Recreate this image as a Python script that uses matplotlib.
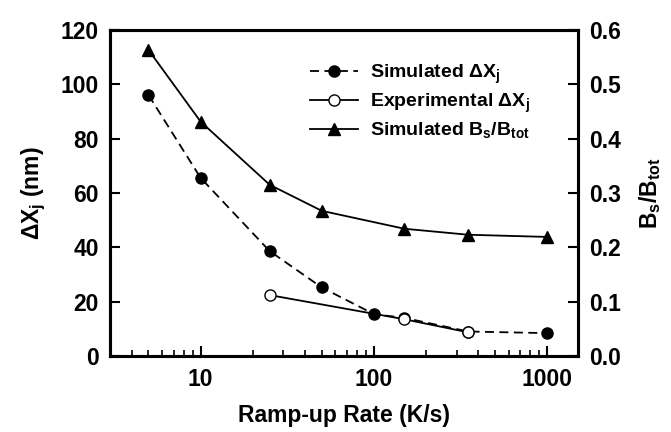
import matplotlib
matplotlib.use('Agg')
import matplotlib.pyplot as plt
from matplotlib.ticker import LogLocator, NullFormatter, FixedLocator, FixedFormatter

plt.rcParams['font.family'] = ['Liberation Sans', 'DejaVu Sans']
plt.rcParams['font.weight'] = 'bold'
plt.rcParams['mathtext.default'] = 'regular'

# Data
rate_sim = [5, 10, 25, 50, 100, 150, 350, 1000]
dxj_sim = [96, 65.5, 38.6, 25.2, 15.4, 14.0, 9.0, 8.4]
rate_exp = [25, 150, 350]
dxj_exp = [22.4, 13.5, 8.7]
rate_b = [5, 10, 25, 50, 150, 350, 1000]
bs_btot = [0.563, 0.431, 0.315, 0.267, 0.234, 0.223, 0.219]

x_ticks = [10, 100, 1000]
x_ticklabels = ['10', '100', '1000']
yl_ticks = [0, 20, 40, 60, 80, 100, 120]
yr_ticks = [0.0, 0.1, 0.2, 0.3, 0.4, 0.5, 0.6]

fig = plt.figure(figsize=(6.71, 4.32), dpi=100)
ax = fig.add_axes([0.164, 0.176, 0.697, 0.755])
ax2 = ax.twinx()

lw = 1.3
l1, = ax.plot(rate_sim, dxj_sim, color='black', linestyle=(0, (5, 3)), linewidth=lw,
              marker='o', markersize=8, markerfacecolor='black', markeredgecolor='black',
              label='Simulated $\\Delta X_j$')
l2, = ax.plot(rate_exp, dxj_exp, color='black', linestyle='-', linewidth=lw,
              marker='o', markersize=8, markerfacecolor='white', markeredgecolor='black',
              markeredgewidth=1.0, label='Experimental $\\Delta X_j$')
l3, = ax2.plot(rate_b, bs_btot, color='black', linestyle='-', linewidth=lw,
               marker='^', markersize=9, markerfacecolor='black', markeredgecolor='black',
               label='Simulated B$_s$/B$_{tot}$')
ax.set_zorder(ax2.get_zorder() + 1)
ax.patch.set_visible(False)

ax.set_xscale('log')
ax.set_xlim(3, 1500)
ax.set_ylim(0, 120)
ax2.set_ylim(0, 0.6)

ax.xaxis.set_major_locator(FixedLocator(x_ticks))
ax.xaxis.set_major_formatter(FixedFormatter(x_ticklabels))
ax.xaxis.set_minor_locator(LogLocator(base=10, subs=range(2, 10)))
ax.xaxis.set_minor_formatter(NullFormatter())
ax.set_yticks(yl_ticks)
ax2.set_yticks(yr_ticks)
ax2.set_yticklabels([f'{v:.1f}' for v in yr_ticks])

fs = 16.5
for a in (ax, ax2):
    for s in a.spines.values():
        s.set_linewidth(2.2)
    a.tick_params(which='major', direction='in', length=7.5, width=1.5, labelsize=fs, pad=8)
    a.tick_params(which='minor', direction='in', length=4, width=1.2)
ax.tick_params(axis='x', which='major', pad=9)
ax.tick_params(top=False, right=False)
ax.tick_params(axis='x', which='minor', top=False)
ax2.tick_params(left=False)

for lab in ax.get_xticklabels() + ax.get_yticklabels() + ax2.get_yticklabels():
    lab.set_fontweight('bold')

ax.set_xlabel('Ramp-up Rate (K/s)', fontsize=fs, fontweight='bold', labelpad=9)
ax.set_ylabel('$\\Delta$X$_j$ (nm)', fontsize=fs, fontweight='bold', labelpad=9)
ax2.set_ylabel('B$_s$/B$_{tot}$', fontsize=fs, fontweight='bold', labelpad=12)

leg = ax.legend(handles=[l1, l2, l3], loc='upper left', bbox_to_anchor=(0.450, 0.872),
                bbox_transform=fig.transFigure, frameon=False, fontsize=14,
                handlelength=2.5, handletextpad=0.6, labelspacing=0.28, borderaxespad=0)
for t in leg.get_texts():
    t.set_fontweight('bold')

fig.savefig('out.png', dpi=100)
